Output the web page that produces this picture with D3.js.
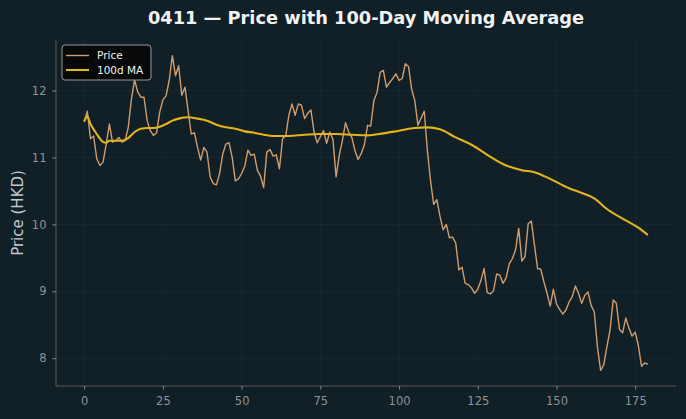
<!DOCTYPE html>
<html><head><meta charset="utf-8">
<script src="https://cdn.jsdelivr.net/npm/d3@7/dist/d3.min.js"></script>
<style>
html,body{margin:0;padding:0;background:#111f27;}
svg{display:block;}
text{font-family:"DejaVu Sans",sans-serif;}
</style></head>
<body><svg id="c" width="686" height="419"></svg>
<script>
const title = "0411 — Price with 100-Day Moving Average";
const yLabel = "Price (HKD)";
const seriesNames = ["Price", "100d MA"];
const xTicks = [0, 25, 50, 75, 100, 125, 150, 175];
const yTicks = [8, 9, 10, 11, 12];

const price = [
11.53,11.69,11.28,11.32,10.98,10.88,10.93,11.20,11.50,11.23,
11.25,11.30,11.23,11.25,11.45,11.87,12.16,11.98,11.90,11.90,
11.55,11.40,11.33,11.37,11.68,11.86,11.92,12.15,12.52,12.22,
12.37,11.93,12.05,11.70,11.35,11.37,11.15,10.96,11.15,11.08,
10.71,10.61,10.59,10.76,11.05,11.20,11.22,11.00,10.65,10.68,
10.76,10.87,11.11,11.03,11.05,10.81,10.72,10.55,11.08,11.12,
11.02,11.04,10.83,11.28,11.32,11.63,11.80,11.63,11.80,11.78,
11.58,11.66,11.71,11.38,11.22,11.31,11.40,11.21,11.38,11.27,
10.71,11.03,11.25,11.52,11.38,11.30,11.10,10.97,11.06,11.19,
11.48,11.47,11.85,11.97,12.27,12.30,12.05,12.12,12.18,12.25,
12.15,12.18,12.40,12.36,12.02,11.85,11.48,11.59,11.69,11.10,
10.65,10.30,10.37,10.12,9.92,10.00,9.80,9.81,9.72,9.32,
9.36,9.12,9.10,9.05,8.97,9.03,9.16,9.34,8.98,8.96,
9.01,9.26,9.24,9.12,9.20,9.41,9.49,9.62,9.94,9.45,
9.52,10.01,10.05,9.69,9.34,9.33,9.14,8.97,8.78,9.03,
8.81,8.73,8.66,8.72,8.84,8.92,9.08,8.97,8.82,8.94,
8.99,8.79,8.69,8.17,7.82,7.90,8.17,8.42,8.87,8.82,
8.43,8.38,8.60,8.45,8.33,8.39,8.19,7.88,7.93,7.91
];

const maDays = [0,1,2,3,4,5,6,7,8,10,12,14,16,18,20,22,24,26,28,30,33,36,39,42,45,48,51,54,57,60,65,70,75,80,85,90,95,100,105,109,113,118,123,128,134,139,143,148,154,158,162,166,172,176,179];
const maValues = [11.54,11.61,11.50,11.42,11.35,11.28,11.23,11.22,11.25,11.25,11.25,11.29,11.38,11.43,11.44,11.44,11.46,11.50,11.55,11.58,11.60,11.58,11.55,11.49,11.45,11.43,11.39,11.37,11.34,11.32,11.32,11.34,11.35,11.35,11.34,11.33,11.36,11.40,11.44,11.45,11.42,11.30,11.19,11.04,10.88,10.81,10.78,10.68,10.54,10.47,10.39,10.23,10.06,9.95,9.84];

const W = 686, H = 419;
const m = {left: 56, right: 676, top: 40, bottom: 386};
const n = price.length;
const pad = (n - 1) * 0.05;
const x = d3.scaleLinear().domain([-pad, n - 1 + pad]).range([m.left, m.right]);
const yMin = d3.min(price.concat(maValues)), yMax = d3.max(price.concat(maValues));
const yp = (yMax - yMin) * 0.05;
const y = d3.scaleLinear().domain([yMin - yp, yMax + yp]).range([m.bottom, m.top]);

const svg = d3.select("#c");
svg.append("rect").attr("width", W).attr("height", H).attr("fill", "#111f27");

// grid
const g = svg.append("g");
g.selectAll(".gx").data(xTicks).enter().append("line")
  .attr("x1", d => x(d)).attr("x2", d => x(d)).attr("y1", m.top).attr("y2", m.bottom)
  .attr("stroke", "#1b2b33").attr("stroke-width", 0.8);
g.selectAll(".gy").data(yTicks).enter().append("line")
  .attr("y1", d => y(d)).attr("y2", d => y(d)).attr("x1", m.left).attr("x2", m.right)
  .attr("stroke", "#1b2b33").attr("stroke-width", 0.8);

// axes
const xAxis = d3.axisBottom(x).tickValues(xTicks).tickFormat(d3.format("d")).tickSize(3.5).tickPadding(7).tickSizeOuter(0);
const yAxis = d3.axisLeft(y).tickValues(yTicks).tickFormat(d3.format("d")).tickSize(3.5).tickPadding(6).tickSizeOuter(0);
const gx = svg.append("g").attr("transform", `translate(0,${m.bottom})`).call(xAxis);
const gy = svg.append("g").attr("transform", `translate(${m.left},0)`).call(yAxis);
gx.select(".domain").attr("d", `M${m.left},0H${m.right}`);
gy.select(".domain").attr("d", `M0,${m.top}V${m.bottom}`);
[gx, gy].forEach(a => {
  a.select(".domain").attr("stroke", "#5c5a56").attr("stroke-width", 1);
  a.selectAll(".tick line").attr("stroke", "#8a8a8a");
  a.selectAll(".tick text").attr("fill", "#8e9396").attr("font-size", "11.5px")
    .attr("font-family", "DejaVu Sans, sans-serif");
});

// lines
const line = d3.line().x((d, i) => x(i)).y(d => y(d));
svg.append("path").datum(price).attr("d", line)
  .attr("fill", "none").attr("stroke", "#cf9d6e").attr("stroke-width", 1.4)
  .attr("stroke-linejoin", "round");
const maLine = d3.line().x(d => x(d[0])).y(d => y(d[1])).curve(d3.curveMonotoneX);
svg.append("path").datum(maDays.map((d, i) => [d, maValues[i]])).attr("d", maLine)
  .attr("fill", "none").attr("stroke", "#e3b51c").attr("stroke-width", 2.1)
  .attr("stroke-linejoin", "round");

// title & labels
svg.append("text").attr("x", (m.left + m.right) / 2).attr("y", 24)
  .attr("text-anchor", "middle").attr("fill", "#f2f2f2")
  .attr("font-size", "17.8px").attr("font-weight", "bold").text(title);
svg.append("text").attr("transform", `translate(23,${(m.top + m.bottom) / 2}) rotate(-90)`)
  .attr("text-anchor", "middle").attr("fill", "#c4c8cb").attr("font-size", "15px").text(yLabel);

// legend
const lg = svg.append("g").attr("transform", "translate(62,45)");
lg.append("rect").attr("width", 89).attr("height", 35).attr("rx", 3)
  .attr("fill", "#050607").attr("fill-opacity", 0.9).attr("stroke", "#9a9a9a").attr("stroke-width", 1);
const lcol = ["#cf9d6e", "#e3b51c"], lw = [1.4, 2.1];
seriesNames.forEach((s, i) => {
  const yy = 10.5 + i * 14.5;
  lg.append("line").attr("x1", 4).attr("x2", 27).attr("y1", yy).attr("y2", yy)
    .attr("stroke", lcol[i]).attr("stroke-width", lw[i]);
  lg.append("text").attr("x", 35).attr("y", yy + 3.8).attr("fill", "#f0f0f0")
    .attr("font-size", "10.5px").text(s);
});
</script></body></html>
